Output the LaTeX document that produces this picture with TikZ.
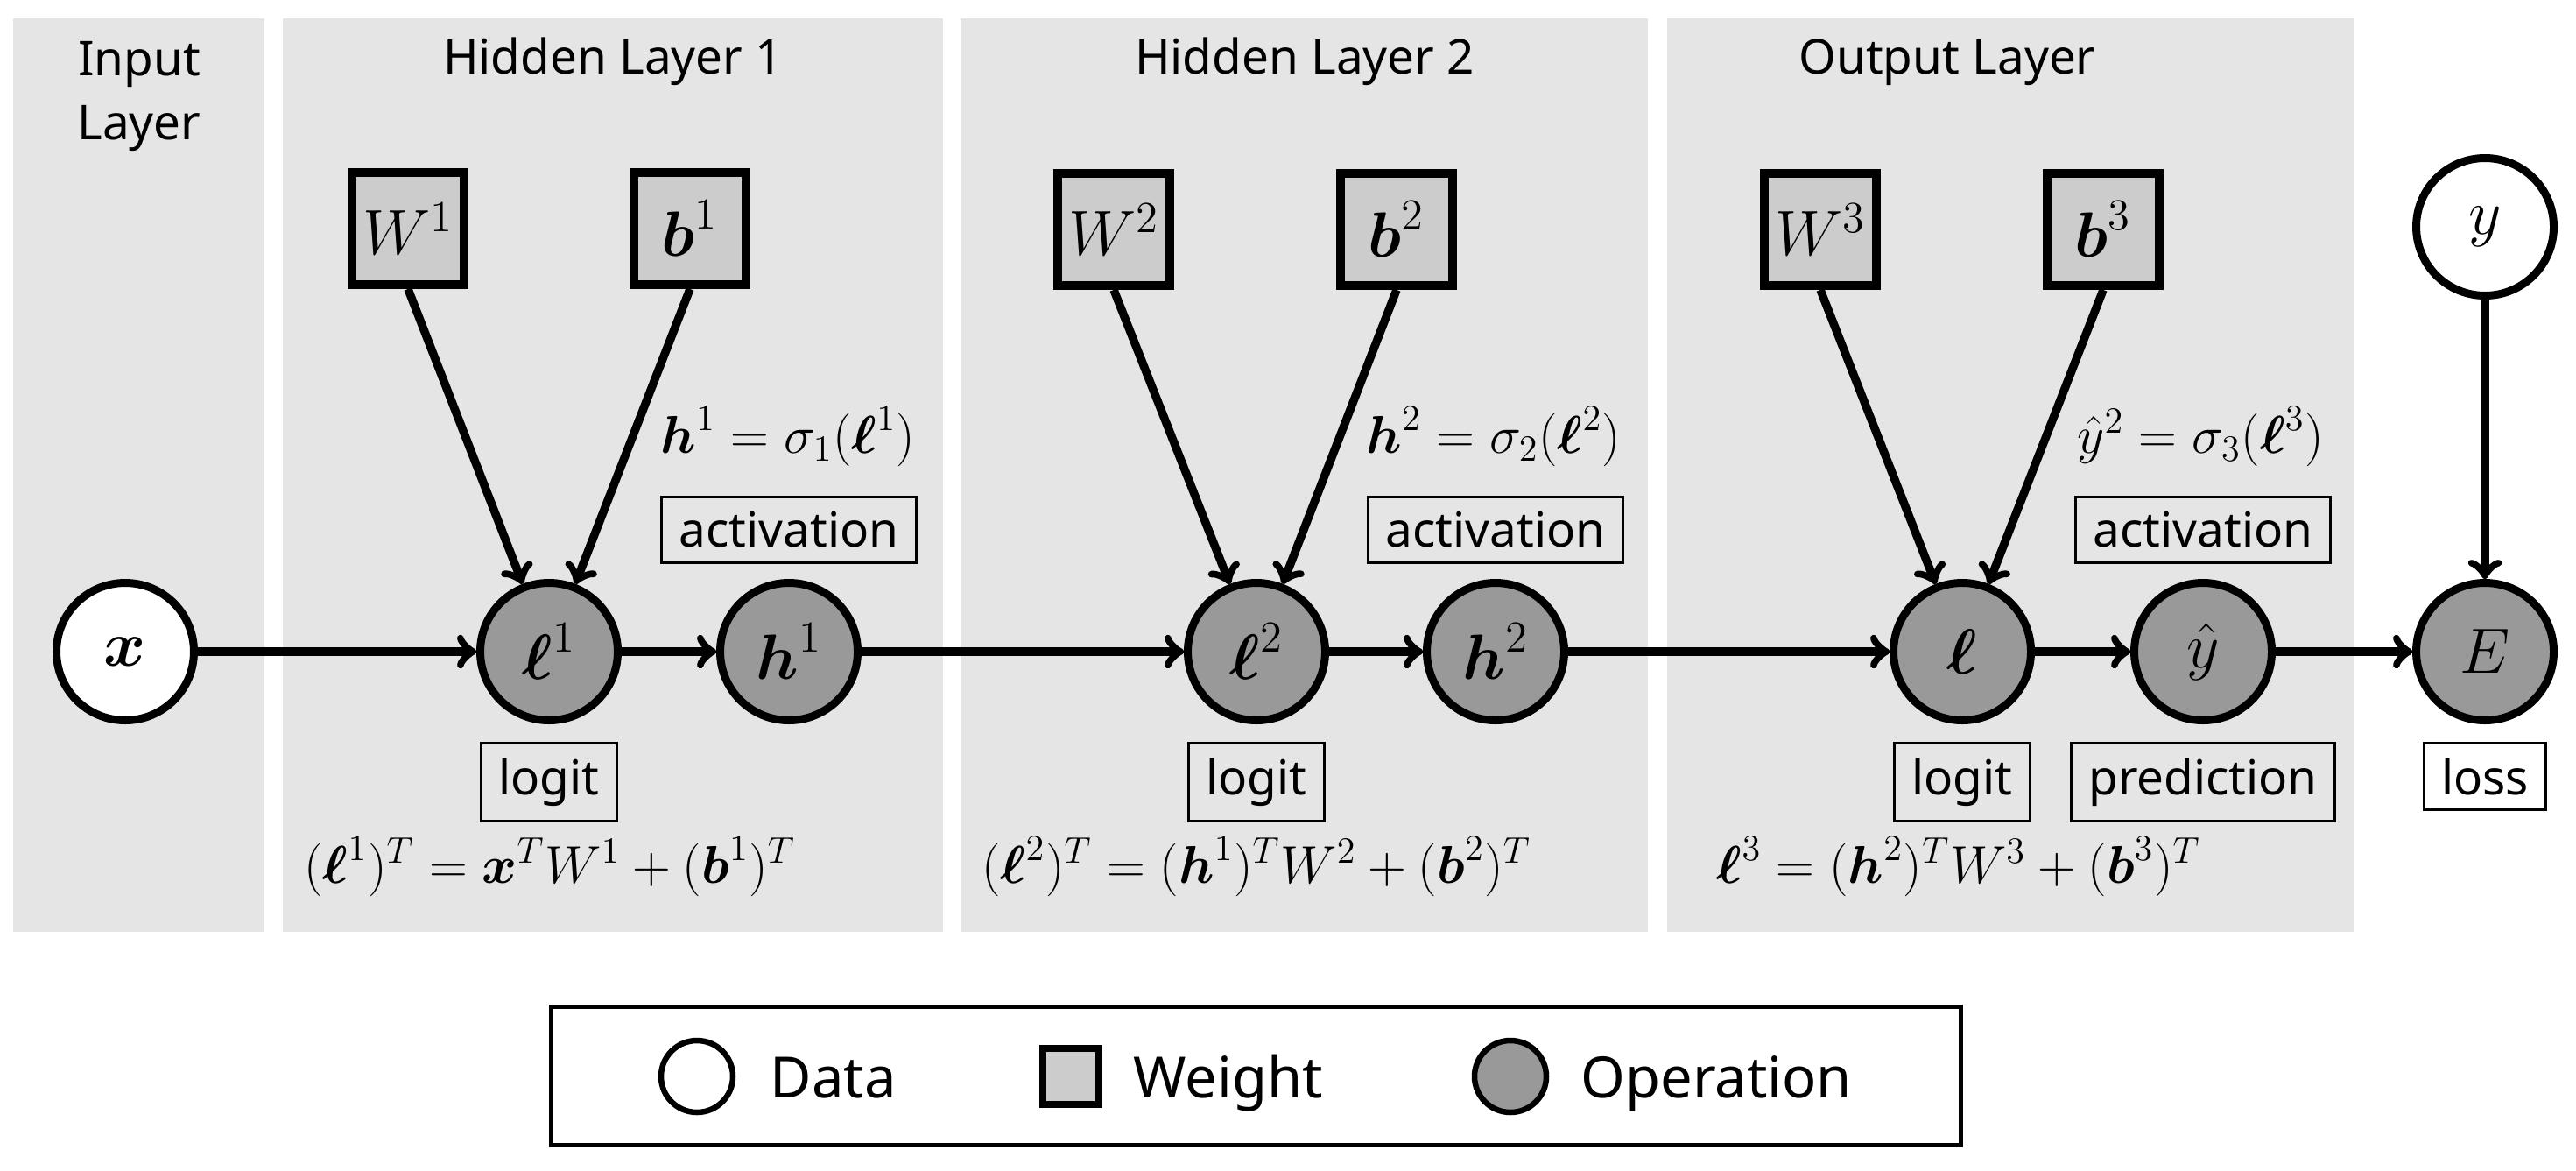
\documentclass[tikz,border=0pt]{standalone}
\usepackage[no-math]{fontspec}
\usepackage{amsmath}
\usepackage{amssymb}
\usepackage{tikz}
\newfontfamily\notosans{Noto Sans}
\definecolor{panelGray}{RGB}{229,229,229}
\definecolor{weightGray}{RGB}{204,204,204}
\definecolor{opGray}{RGB}{153,153,153}

\begin{document}
\begin{tikzpicture}[x=1cm,y=-1cm,
  data/.style={circle,draw,line width=0.09cm,fill=white,minimum size=1.57cm,inner sep=0pt,font=\fontsize{20}{24}\selectfont},
  op/.style={data,fill=opGray},
  weight/.style={rectangle,draw,line width=0.1cm,fill=weightGray,minimum size=1.28cm,inner sep=0pt,font=\fontsize{20}{24}\selectfont},
  tag/.style={rectangle,draw,line width=0.85pt,inner xsep=0.2cm,inner ysep=0.17cm,anchor=north,font=\notosans\fontsize{15.6}{20}\selectfont},
  eq/.style={anchor=base,inner sep=0pt,font=\fontsize{18}{22}\selectfont},
  title/.style={font=\notosans\fontsize{15.6}{20.7}\selectfont,align=center,inner sep=0pt},
  legtext/.style={anchor=base west,inner sep=0pt,font=\notosans\fontsize{18.5}{22}\selectfont},
  flow/.style={->,line width=0.095cm}]
\useasboundingbox (0,0) rectangle (29.42,13.36);

% Layer panels
\fill[panelGray] (0.15,0.21) rectangle (3.02,10.64);
\fill[panelGray] (3.23,0.21) rectangle (10.77,10.64);
\fill[panelGray] (10.97,0.21) rectangle (18.82,10.64);
\fill[panelGray] (19.04,0.21) rectangle (26.88,10.64);

% Panel titles
\node[title] (tin) at (1.59,1.10) {Input\\Layer};
\node[title,anchor=base] (thid1) at (7.00,0.84) {Hidden Layer 1};
\node[title,anchor=base] (thid2) at (14.90,0.84) {Hidden Layer 2};
\node[title,anchor=base] (tout) at (22.24,0.84) {Output Layer};

% Weights
\node[weight] (W1) at (4.66,2.61) {$W^1$};
\node[weight] (b1) at (7.88,2.61) {$\boldsymbol{b}^1$};
\node[weight] (W2) at (12.72,2.62) {$W^2$};
\node[weight] (b2) at (15.95,2.62) {$\boldsymbol{b}^2$};
\node[weight] (W3) at (20.79,2.62) {$W^3$};
\node[weight] (b3) at (24.02,2.62) {$\boldsymbol{b}^3$};

% Data and operations
\node[data] (x) at (1.43,7.44) {$\boldsymbol{x}$};
\node[op] (l1) at (6.27,7.44) {$\boldsymbol{\ell}^1$};
\node[op] (h1) at (9.01,7.44) {$\boldsymbol{h}^1$};
\node[op] (l2) at (14.35,7.44) {$\boldsymbol{\ell}^2$};
\node[op] (h2) at (17.08,7.44) {$\boldsymbol{h}^2$};
\node[op] (l3) at (22.41,7.44) {$\boldsymbol{\ell}$};
\node[op] (yhat) at (25.16,7.44) {$\hat{y}$};
\node[op] (E) at (28.38,7.44) {$E$};
\node[data] (y) at (28.38,2.59) {$y$};

% Connections
\draw[flow] (x) -- (l1);
\draw[flow] (l1) -- (h1);
\draw[flow] (h1) -- (l2);
\draw[flow] (l2) -- (h2);
\draw[flow] (h2) -- (l3);
\draw[flow] (l3) -- (yhat);
\draw[flow] (yhat) -- (E);
\draw[flow] (y) -- (E);
\draw[flow] (W1.south) -- (l1);
\draw[flow] (b1.south) -- (l1);
\draw[flow] (W2.south) -- (l2);
\draw[flow] (b2.south) -- (l2);
\draw[flow] (W3.south) -- (l3);
\draw[flow] (b3.south) -- (l3);

% Tags
\node[tag] (act1) at (9.01,5.66) {activation};
\node[tag] (act2) at (17.08,5.66) {activation};
\node[tag] (act3) at (25.16,5.66) {activation};
\node[tag] (logit1) at (6.27,8.47) {logit};
\node[tag] (logit2) at (14.35,8.47) {logit};
\node[tag] (logit3) at (22.41,8.47) {logit};
\node[tag] (pred) at (25.16,8.47) {prediction};
\node[tag] (loss) at (28.38,8.47) {loss};

% Equations
\node[eq] (eqh1) at (9.00,5.17) {$\boldsymbol{h}^1=\sigma_1(\boldsymbol{\ell}^1)$};
\node[eq] (eqh2) at (17.06,5.17) {$\boldsymbol{h}^2=\sigma_2(\boldsymbol{\ell}^2)$};
\node[eq] (eqy) at (25.13,5.17) {$\hat{y}^2=\sigma_3(\boldsymbol{\ell}^3)$};
\node[eq] (eql1) at (6.28,10.08) {$(\boldsymbol{\ell}^1)^T=\boldsymbol{x}^TW^1+(\boldsymbol{b}^1)^T$};
\node[eq] (eql2) at (14.35,10.08) {$(\boldsymbol{\ell}^2)^T=(\boldsymbol{h}^1)^TW^2+(\boldsymbol{b}^2)^T$};
\node[eq] (eql3) at (22.37,10.08) {$\boldsymbol{\ell}^3=(\boldsymbol{h}^2)^TW^3+(\boldsymbol{b}^3)^T$};

% Legend
\draw[line width=0.05cm] (6.295,11.495) rectangle (22.395,13.075);
\node[data,minimum size=0.82cm,line width=0.065cm] (legdata) at (7.96,12.29) {};
\node[legtext] (txdata) at (8.79,12.53) {Data};
\node[weight,minimum size=0.64cm,line width=0.08cm] (legweight) at (12.23,12.29) {};
\node[legtext] (txweight) at (12.94,12.53) {Weight};
\node[op,minimum size=0.82cm,line width=0.065cm] (legop) at (17.25,12.29) {};
\node[legtext] (txop) at (18.05,12.53) {Operation};
\end{tikzpicture}
\end{document}
